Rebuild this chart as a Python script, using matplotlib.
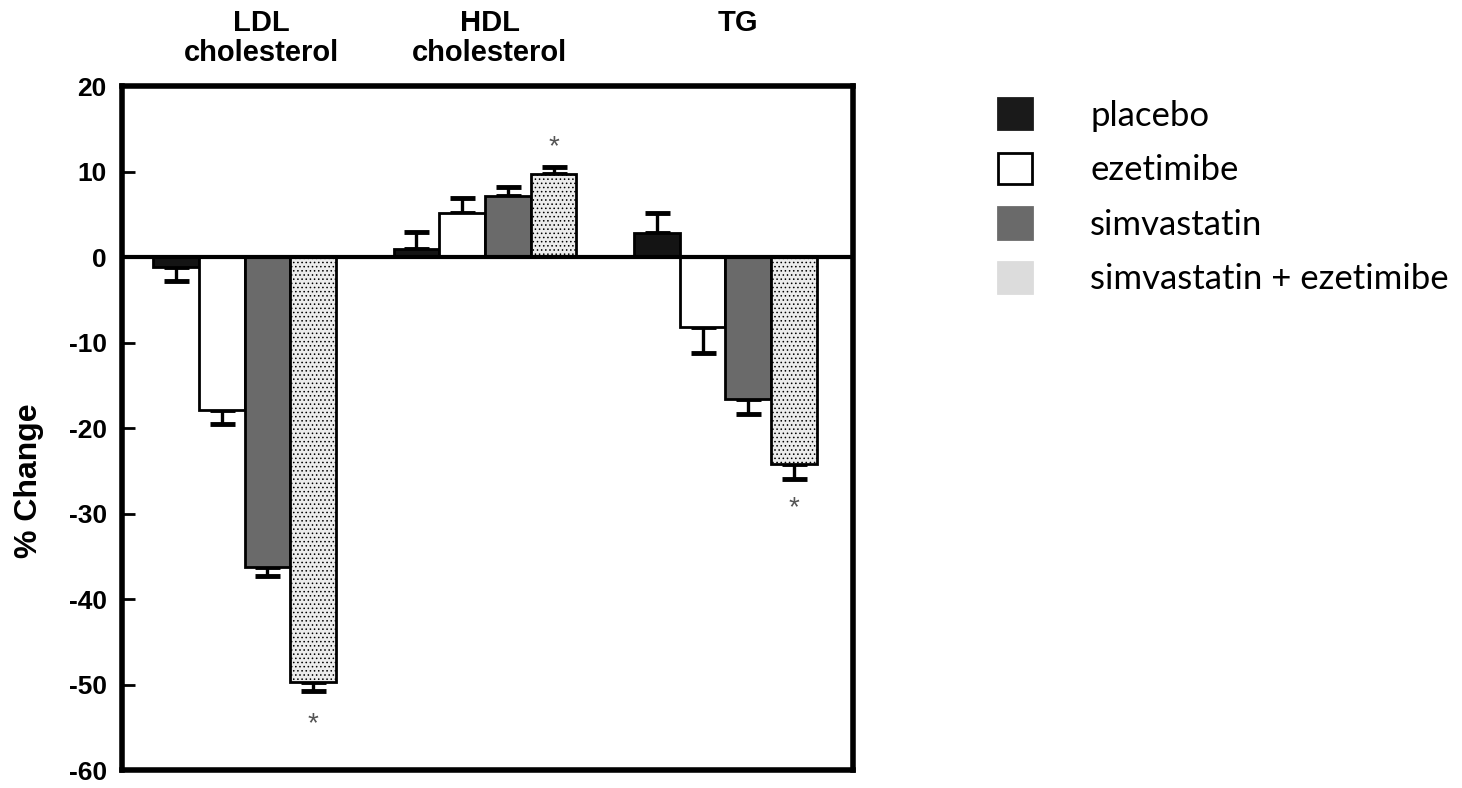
import numpy as np
import matplotlib
matplotlib.use('Agg')
import matplotlib.pyplot as plt
from matplotlib.patches import Patch

groups = ['LDL\ncholesterol', 'HDL\ncholesterol', 'TG']
treatments = ['placebo', 'ezetimibe', 'simvastatin', 'simvastatin + ezetimibe']

# % change per treatment, one value per group (LDL, HDL, TG)
placebo = [-1.2, 0.9, 2.8]
ezetimibe = [-17.9, 5.2, -8.2]
simvastatin = [-36.3, 7.1, -16.6]
combo = [-49.7, 9.7, -24.2]

# one-sided error (SEM), drawn away from zero
err_placebo = [1.6, 2.0, 2.4]
err_ezetimibe = [1.6, 1.7, 3.0]
err_simvastatin = [1.0, 1.1, 1.8]
err_combo = [1.1, 0.8, 1.8]

# significance markers (group index, y position)
star_groups = [0, 1, 2]
star_y = [-54.6, 12.9, -29.4]

yticks = [-60, -50, -40, -30, -20, -10, 0, 10, 20]
ytick_labels = ['-60', '-50', '-40', '-30', '-20', '-10', '0', '10', '20']

values = [placebo, ezetimibe, simvastatin, combo]
errors = [err_placebo, err_ezetimibe, err_simvastatin, err_combo]
faces = ['#141414', 'white', '#6a6a6a', '#ececec']
hatches = [None, None, None, '....']

plt.rcParams['font.family'] = ['Liberation Sans', 'DejaVu Sans']
plt.rcParams['hatch.color'] = '#9a9a9a'
plt.rcParams['hatch.linewidth'] = 0.6

fig = plt.figure(figsize=(14.62, 7.88), dpi=100)
ax = fig.add_axes([0.0834, 0.0228, 0.5, 0.868])

x = np.arange(len(groups))
w = 0.19
for i, (vals, errs) in enumerate(zip(values, errors)):
    pos = x + (i - 1.5) * w
    vals = np.array(vals)
    errs = np.array(errs)
    ax.bar(pos, vals, w, color=faces[i], edgecolor='black', linewidth=2,
           hatch=hatches[i], zorder=2)
    lower = np.where(vals < 0, errs, 0)
    upper = np.where(vals >= 0, errs, 0)
    ax.errorbar(pos, vals, yerr=[lower, upper], fmt='none', ecolor='black',
                elinewidth=2.4, capsize=9, capthick=3.5, zorder=1)

for g, y in zip(star_groups, star_y):
    ax.text(x[g] + 1.5 * w, y, '*', ha='center', va='center', fontsize=20,
            color='#555555')

ax.axhline(0, color='black', linewidth=3, zorder=3)

ax.set_xlim(-0.51, 2.53)
ax.set_ylim(-60, 20)
ax.set_yticks(yticks)
ax.set_yticklabels(ytick_labels)
ax.set_xticks([])
ax.tick_params(axis='y', direction='in', length=9, width=2, pad=11,
               labelsize=19)
for lab in ax.get_yticklabels():
    lab.set_fontweight('bold')
for s in ax.spines.values():
    s.set_linewidth(4)

fig.text(29 / 1462, 1 - 481 / 788, '% Change', rotation=90, ha='center',
         va='center', fontsize=23, fontweight='bold')

label_x = [0.07, 1.02, 2.05]
for lx, name in zip(label_x, groups):
    ax.text(lx, 1.113, name, transform=ax.get_xaxis_transform(), ha='center',
            va='top', fontsize=21, fontweight='bold', linespacing=1.1)

handles = [Patch(facecolor=f, edgecolor=('black' if f == 'white' else f),
                 linewidth=2) for f in ['#1a1a1a', 'white', '#6a6a6a', '#dcdcdc']]
leg = fig.legend(handles, treatments, loc='upper left',
                 bbox_to_anchor=(0.661, 0.915), frameon=False,
                 handlelength=1.0, handleheight=1.0, handletextpad=1.67,
                 labelspacing=0.61, prop={'family': 'Lato', 'size': 25})

fig.savefig('out.png', dpi=100)
